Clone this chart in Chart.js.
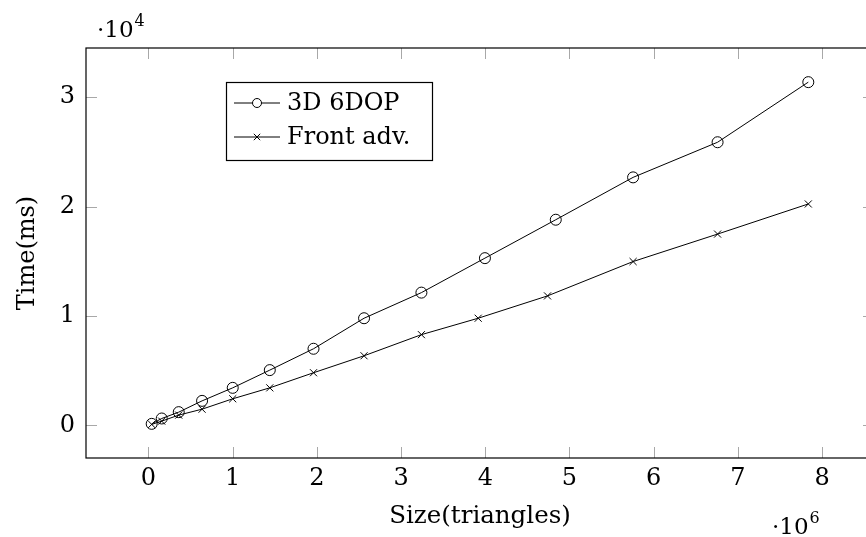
<!DOCTYPE html>
<html>
<head>
<meta charset="utf-8">
<script src="https://cdn.jsdelivr.net/npm/chart.js@4/dist/chart.umd.min.js"></script>
<style>
  html, body { margin: 0; padding: 0; background: #fff; overflow: hidden; }
  #wrap { width: 884px; height: 537px; }
</style>
</head>
<body>
<div id="wrap"><canvas id="chart" width="884" height="537"></canvas></div>
<script>
// mesh size (triangles) and build time (ms)
const sizes6dop = [40000, 159000, 361000, 638000, 1002000, 1442000, 1961000, 2561000, 3242000, 3996000, 4837000, 5755000, 6758000, 7835000];
const time6dop = [150, 640, 1220, 2250, 3440, 5060, 7010, 9800, 12140, 15290, 18800, 22670, 25880, 31370];
const sizesFront = [40000, 159000, 361000, 638000, 1002000, 1442000, 1961000, 2561000, 3242000, 3916000, 4739000, 5755000, 6758000, 7835000];
const timeFront = [100, 400, 950, 1490, 2440, 3440, 4820, 6370, 8300, 9800, 11840, 14980, 17490, 20240];

const seriesLabels = ["3D 6DOP", "Front adv."];
const xTicks = [0, 1, 2, 3, 4, 5, 6, 7, 8];   // x 10^6
const yTicks = [0, 1, 2, 3];                  // x 10^4

const FONT = "'DejaVu Serif', serif";
const TICK_LEN = 11;

function toPoints(xs, ys) {
  return xs.map((x, i) => ({ x: x, y: ys[i] }));
}

// frame, inward tick marks, exponent labels and the legend box
const pgfDecor = {
  id: "pgfDecor",
  afterDraw(chart) {
    const ctx = chart.ctx;
    const a = chart.chartArea;
    const xs = chart.scales.x, ys = chart.scales.y;
    ctx.save();

    // tick marks on all four sides
    ctx.strokeStyle = "#a8a8a8";
    ctx.lineWidth = 1;
    ctx.beginPath();
    xTicks.forEach(t => {
      const px = Math.round(xs.getPixelForValue(t * 1e6)) + 0.5;
      ctx.moveTo(px, a.bottom); ctx.lineTo(px, a.bottom - TICK_LEN);
      ctx.moveTo(px, a.top); ctx.lineTo(px, a.top + TICK_LEN);
    });
    yTicks.forEach(t => {
      const py = Math.round(ys.getPixelForValue(t * 1e4)) + 0.5;
      ctx.moveTo(a.left, py); ctx.lineTo(a.left + TICK_LEN, py);
      ctx.moveTo(a.right, py); ctx.lineTo(a.right - TICK_LEN, py);
    });
    ctx.stroke();

    // frame
    ctx.strokeStyle = "#000";
    ctx.lineWidth = 1.2;
    ctx.strokeRect(a.left, a.top, a.right - a.left, a.bottom - a.top);

    // exponent labels
    ctx.fillStyle = "#000";
    ctx.textBaseline = "alphabetic";
    ctx.textAlign = "left";
    drawExp(ctx, a.left + 11, 37, "4");
    drawExp(ctx, 772, 534, "6");

    // legend
    const lx = 226, ly = 82, lw = 206, lh = 78;
    ctx.fillStyle = "#fff";
    ctx.fillRect(lx, ly, lw, lh);
    ctx.strokeStyle = "#000";
    ctx.lineWidth = 1.2;
    ctx.strokeRect(lx + 0.5, ly + 0.5, lw, lh);
    chart.data.datasets.forEach((ds, i) => {
      const cy = ly + 21 + i * 34;
      ctx.strokeStyle = "#000";
      ctx.lineWidth = 1;
      ctx.beginPath();
      ctx.moveTo(lx + 8, cy); ctx.lineTo(lx + 54, cy);
      ctx.stroke();
      const mx = lx + 31;
      ctx.beginPath();
      if (ds.pointStyle === "circle") {
        ctx.arc(mx, cy, 4.5, 0, Math.PI * 2);
        ctx.fillStyle = "#fff";
        ctx.fill();
      } else {
        const r = 3.2;
        ctx.moveTo(mx - r, cy - r); ctx.lineTo(mx + r, cy + r);
        ctx.moveTo(mx - r, cy + r); ctx.lineTo(mx + r, cy - r);
      }
      ctx.stroke();
      ctx.fillStyle = "#000";
      ctx.font = "24px " + FONT;
      ctx.textBaseline = "middle";
      ctx.fillText(ds.label, lx + 61, cy + 1);
    });
    ctx.restore();
  }
};

function drawExp(ctx, x, baseline, power) {
  ctx.font = "23px " + FONT;
  ctx.fillText("\u00b710", x, baseline);
  const w = ctx.measureText("\u00b710").width;
  ctx.font = "16px " + FONT;
  ctx.fillText(power, x + w + 1, baseline - 11);
}

new Chart(document.getElementById("chart"), {
  type: "scatter",
  data: {
    datasets: [
      {
        label: seriesLabels[0],
        data: toPoints(sizes6dop, time6dop),
        showLine: true,
        borderColor: "#000",
        borderWidth: 1,
        pointStyle: "circle",
        pointRadius: 5.5,
        pointBorderWidth: 1,
        pointBorderColor: "#000",
        pointBackgroundColor: "rgba(0,0,0,0)"
      },
      {
        label: seriesLabels[1],
        data: toPoints(sizesFront, timeFront),
        showLine: true,
        borderColor: "#000",
        borderWidth: 1,
        pointStyle: "crossRot",
        pointRadius: 5,
        pointBorderWidth: 1,
        pointBorderColor: "#000",
        pointBackgroundColor: "rgba(0,0,0,0)"
      }
    ]
  },
  options: {
    responsive: false,
    animation: false,
    layout: { padding: { top: 48, right: 10, left: 0, bottom: 0 } },
    plugins: {
      legend: { display: false },
      tooltip: { enabled: false }
    },
    scales: {
      x: {
        type: "linear",
        min: -740000,
        max: 8615000,
        afterFit: (s) => { s.height = 79; },
        afterBuildTicks: (s) => { s.ticks = xTicks.map(v => ({ value: v * 1e6 })); },
        ticks: {
          includeBounds: false,
          maxRotation: 0,
          autoSkip: false,
          padding: 6,
          color: "#000",
          font: { family: FONT, size: 24 },
          callback: (v) => String(Math.round(v / 1e6))
        },
        grid: { display: false, drawTicks: false },
        border: { display: false },
        title: {
          display: true,
          text: "Size(triangles)",
          color: "#000",
          font: { family: FONT, size: 24.5 },
          padding: { top: 0, bottom: 6 }
        }
      },
      y: {
        type: "linear",
        min: -2970,
        max: 34490,
        afterFit: (s) => { s.width = 86; },
        afterBuildTicks: (s) => { s.ticks = yTicks.map(v => ({ value: v * 1e4 })); },
        ticks: {
          includeBounds: false,
          autoSkip: false,
          padding: 11,
          color: "#000",
          font: { family: FONT, size: 24 },
          callback: (v) => String(Math.round(v / 1e4))
        },
        grid: { display: false, drawTicks: false },
        border: { display: false },
        title: {
          display: true,
          text: "Time(ms)",
          color: "#000",
          font: { family: FONT, size: 24 },
          padding: { top: 13, bottom: 0 }
        }
      }
    }
  },
  plugins: [pgfDecor]
});
</script>
</body>
</html>
